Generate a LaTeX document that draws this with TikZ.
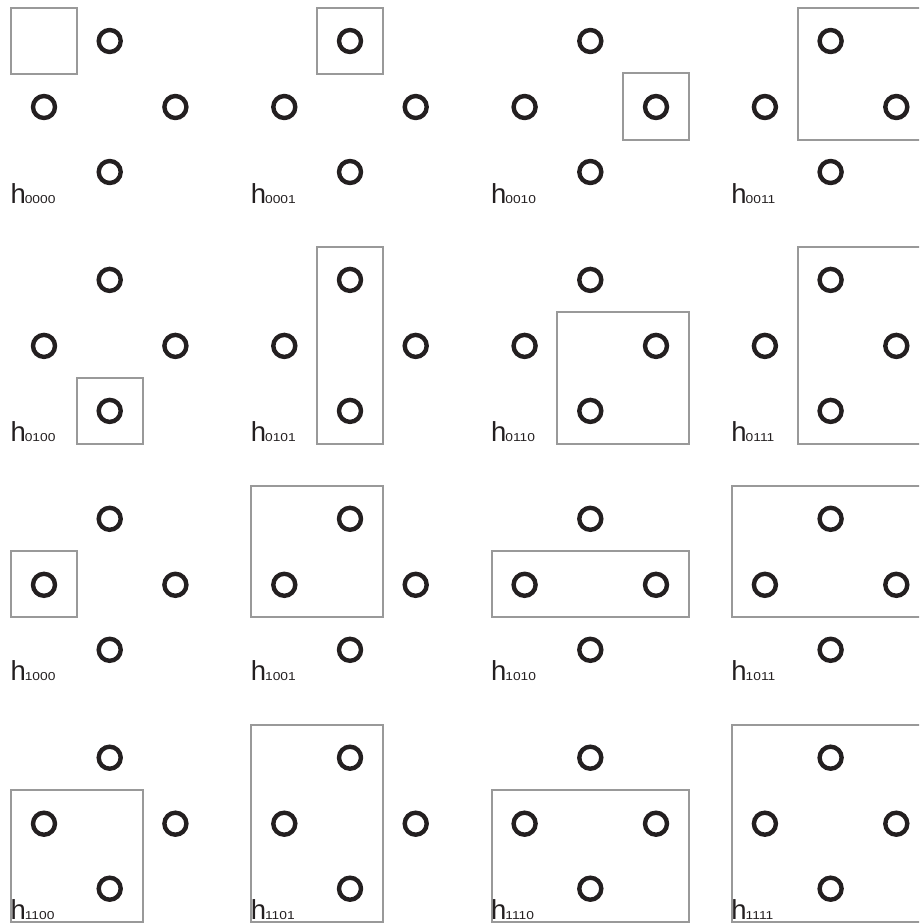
\documentclass[tikz,border=0pt]{standalone}
\usepackage{fontspec}
\setmainfont{Liberation Sans}
\newfontfamily\digfont[FakeStretch=1.2]{Liberation Sans}
\definecolor{ringcol}{HTML}{231F20}
\definecolor{boxcol}{HTML}{999999}
\begin{document}
\begin{tikzpicture}[x=1pt,y=-1pt,
  ring/.style={circle,draw=ringcol,line width=4.4pt,minimum size=22pt,inner sep=0pt},
  selbox/.style={draw=boxcol,line width=2pt},
  lbl/.style={anchor=base west,inner sep=0pt,text=ringcol}]
\useasboundingbox (0,0) rectangle (919,923);
\clip (0,0) rectangle (919,923);
\foreach \code/\n/\xa/\ya/\xb/\yb in {
  0000/0/0/0/0/0, 0001/1/1/0/1/0, 0010/2/2/1/2/1, 0011/3/1/0/2/1,
  0100/4/1/2/1/2, 0101/5/1/0/1/2, 0110/6/1/1/2/2, 0111/7/1/0/2/2,
  1000/8/0/1/0/1, 1001/9/0/0/1/1, 1010/10/0/1/2/1, 1011/11/0/0/2/1,
  1100/12/0/1/1/2, 1101/13/0/0/1/2, 1110/14/0/1/2/2, 1111/15/0/0/2/2}{
  \pgfmathsetmacro\ox{240.3*mod(\n,4)}
  \pgfmathsetmacro\oy{238.9*floor(\n/4)}
  \begin{scope}[shift={(\ox,\oy)}]
    \node[ring] (t\code) at (109.7,41) {};
    \node[ring] (l\code) at (44,107) {};
    \node[ring] (r\code) at (175.4,107) {};
    \node[ring] (b\code) at (109.7,172) {};
    \draw[selbox] ({44+65.7*\xa-33},{41+65.5*\ya-33}) rectangle ({44+65.7*\xb+33},{41+65.5*\yb+33});
    \node[lbl] (h\code) at (10.3,203) {\fontsize{27.5}{30}\selectfont h\kern-1pt\fontsize{11.5}{13}\digfont\code};
  \end{scope}
}
\end{tikzpicture}
\end{document}
